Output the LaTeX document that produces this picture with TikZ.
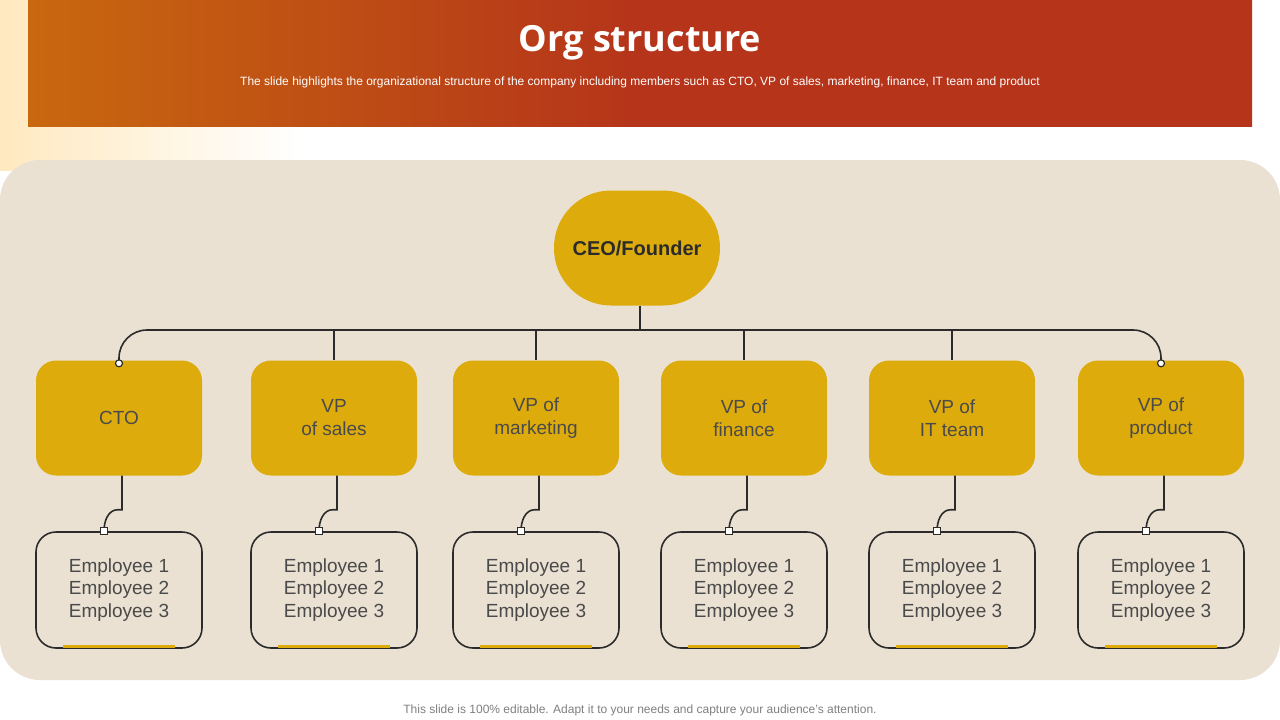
\documentclass[tikz,border=0pt]{standalone}
\usepackage{fontspec}
\setmainfont{Liberation Sans}
\newfontfamily\titlefont{Open Sans}
\usetikzlibrary{positioning}
\definecolor{hdrorange}{HTML}{C8680F}
\definecolor{hdrred}{HTML}{B5341A}
\definecolor{panel}{HTML}{EAE1D3}
\definecolor{gold}{HTML}{DDAC0C}
\definecolor{ink}{HTML}{2B2B2B}
\definecolor{txt}{HTML}{4A4A4A}
\tikzstyle{vpbox} = [rounded corners=20pt, fill=gold, minimum width=166pt, minimum height=115pt, align=center, font=\fontsize{19}{23}\selectfont, text=txt]
\tikzstyle{empbox} = [draw=ink, line width=1.6pt, rounded corners=20pt, minimum width=166pt, minimum height=116pt, align=center, font=\fontsize{19}{22.5}\selectfont, text=txt]
\tikzstyle{link} = [draw=ink, line width=1.6pt]

\begin{document}
\begin{tikzpicture}[x=1pt, y=-1pt]
  \useasboundingbox (0,0) rectangle (1280,720);
  \fill[white] (0,0) rectangle (1280,720);
  % yellow glow in the corner
  \shade[left color=yellow!30!orange!25, right color=white] (0,0) rectangle (300,170);
  % header band
  \shade[left color=hdrorange, right color=hdrred, middle color=hdrred] (28,0) rectangle (1252,126);
  \node[text=white, font=\titlefont\bfseries\fontsize{36}{40}\selectfont] (title) at (640,43) {Org structure};
  \node[text=white, font=\fontsize{12}{14}\selectfont] (sub) at (640,82) {The slide highlights the organizational structure of the company including members such as CTO, VP of sales, marketing, finance, IT team and product};
  % panel
  \fill[panel, rounded corners=40pt] (0,160) rectangle (1280,680);

  \node[fill=gold, rounded corners=57pt, minimum width=166pt, minimum height=115pt, font=\bfseries\fontsize{20}{24}\selectfont, text=ink] (ceo) at (637,248) {CEO/Founder};
  \coordinate (bus) at (640,330);
  \draw[link] (ceo.south -| bus) -- (bus);

  \foreach \name/\x/\lbl in {cto/119/CTO, sales/334/VP\\of sales, mkt/536/VP of\\marketing, fin/744/VP of\\finance, it/952/VP of\\IT team, prod/1161/VP of\\product} {
    \node[vpbox] (\name) at (\x,418) {\lbl};
    \node[empbox] (emp\name) at (\x,590) {Employee 1\\Employee 2\\Employee 3};
    \fill[gold] ([xshift=-56pt, yshift=0.5pt]emp\name.south) rectangle ([xshift=56pt, yshift=4pt]emp\name.south);
    \coordinate (drop\name) at ([xshift=-15pt]emp\name.north);
    \draw[link] ([xshift=3pt]\name.south) -- ++(0,34) -- ++(-4,0) to[out=180, in=90] (drop\name);
    \draw[ink, line width=1.2pt, fill=white] ([xshift=-3.5pt,yshift=-3.5pt]drop\name) rectangle ([xshift=3.5pt,yshift=3.5pt]drop\name);
  }
  % bus line
  \draw[link, rounded corners=28pt] ([yshift=-3pt]cto.north) -- (cto.north |- bus) -- (prod.north |- bus) -- ([yshift=-3pt]prod.north);
  \foreach \name in {sales, mkt, fin, it}
    \draw[link] (\name.north |- bus) -- (\name.north);
  \draw[ink, line width=1.2pt, fill=white] ([yshift=-3pt]cto.north) circle (3.5pt);
  \draw[ink, line width=1.2pt, fill=white] ([yshift=-3pt]prod.north) circle (3.5pt);

  \node[text=gray, font=\fontsize{12}{14}\selectfont] (foot) at (640,710) {This slide is 100\% editable. Adapt it to your needs and capture your audience's attention.};
\end{tikzpicture}
\end{document}
